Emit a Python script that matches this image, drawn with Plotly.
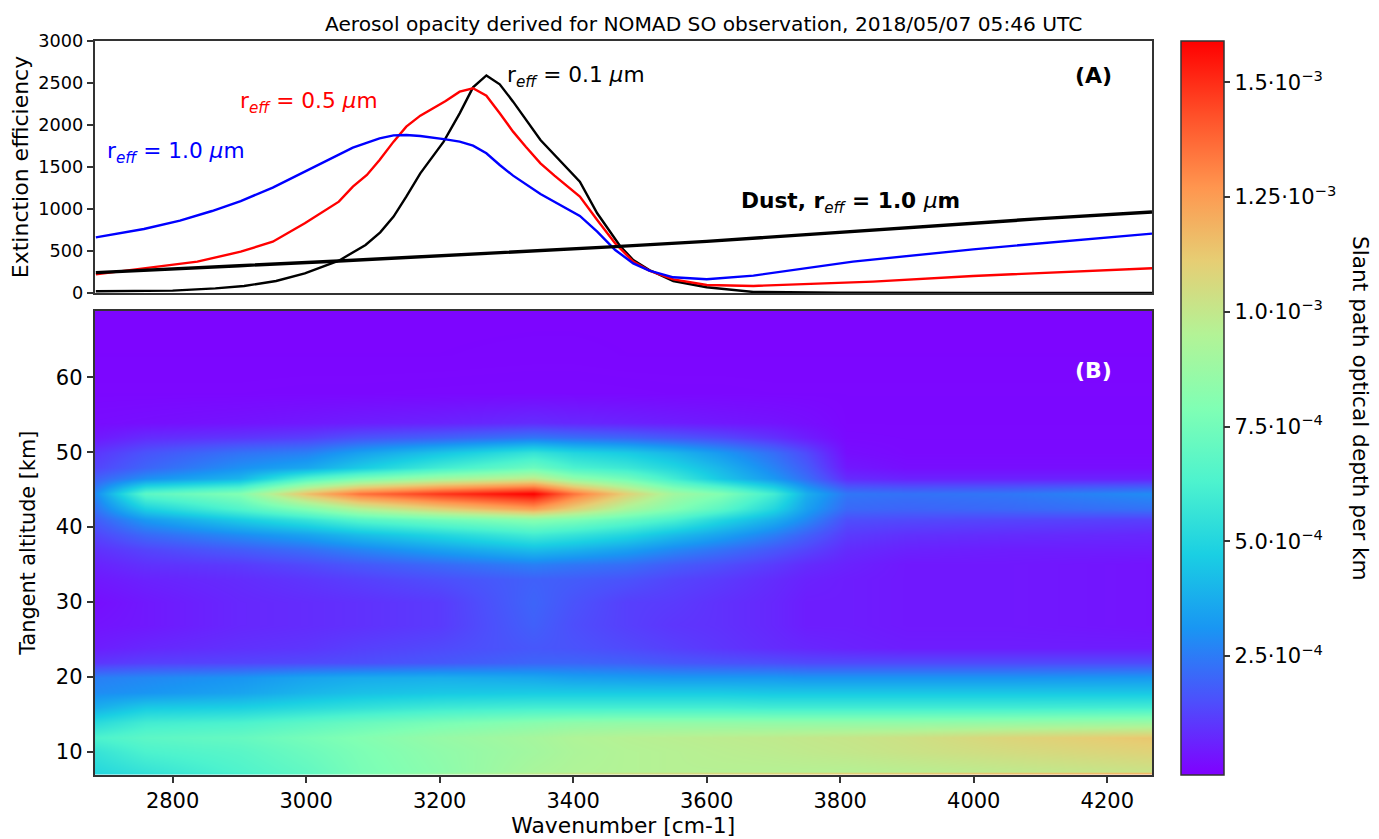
import numpy as np
import plotly.graph_objects as go

W, H = 1379, 839
FONT = "DejaVu Sans"

# Panel A: extinction efficiency curves
x_01 = [2685, 2800, 2864, 2907, 2955, 2998, 3049, 3089, 3111, 3131, 3150, 3171, 3206, 3230, 3250, 3270, 3290, 3310, 3351, 3372, 3410, 3436, 3471, 3490, 3514, 3550, 3600, 3670, 3800, 4000, 4267]
y_01 = [20, 28, 55, 83, 143, 234, 385, 572, 722, 909, 1147, 1425, 1802, 2139, 2448, 2590, 2484, 2278, 1822, 1643, 1326, 949, 552, 393, 274, 143, 68, 12, 4, 2, 1]
x_05 = [2685, 2757, 2837, 2902, 2950, 2998, 3049, 3070, 3091, 3110, 3131, 3150, 3171, 3209, 3230, 3250, 3270, 3290, 3310, 3329, 3351, 3372, 3410, 3436, 3463, 3490, 3514, 3550, 3600, 3670, 3849, 3999, 4267]
y_05 = [222, 294, 373, 492, 611, 830, 1087, 1266, 1405, 1583, 1802, 1980, 2111, 2286, 2397, 2437, 2349, 2139, 1921, 1742, 1544, 1397, 1147, 869, 591, 373, 266, 163, 96, 84, 135, 203, 295]
x_10 = [2685, 2757, 2811, 2859, 2902, 2950, 2998, 3030, 3070, 3110, 3131, 3150, 3171, 3209, 3230, 3250, 3270, 3290, 3310, 3351, 3372, 3410, 3436, 3463, 3490, 3514, 3550, 3600, 3670, 3819, 3999, 4267]
y_10 = [663, 762, 861, 976, 1095, 1254, 1445, 1572, 1730, 1841, 1877, 1881, 1869, 1829, 1802, 1754, 1663, 1524, 1397, 1179, 1087, 917, 730, 512, 353, 266, 187, 163, 207, 373, 520, 707]
x_dust = [2685, 2800, 2900, 3049, 3200, 3340, 3463, 3600, 3700, 3800, 3900, 4000, 4100, 4267]
y_dust = [242, 290, 325, 381, 440, 498, 552, 615, 670, 725, 780, 830, 885, 965]

# Panel B: slant path optical depth per km, in units of 1e-4
wavenumber = [2683, 2760, 2900, 3000, 3080, 3200, 3340, 3400, 3480, 3550, 3620, 3700, 3750, 3810, 3900, 4050, 4267]
altitude = [7, 7.4, 10, 12, 14, 16, 18, 20, 22, 24, 27, 30, 33, 35, 37, 39, 41, 42.5, 44.5, 46.5, 48, 50, 52, 54, 58, 63, 69]
alt_07 = [5.0, 5.4, 6.1, 7.0, 8.0, 9.2, 10.3, 10.7, 11.0, 11.2, 11.5, 11.7, 11.9, 12.1, 12.3, 12.7, 13.2]
alt_08 = [5.1, 5.6, 6.4, 7.0, 7.7, 8.3, 9.2, 9.4, 9.5, 9.6, 9.6, 9.6, 9.6, 9.6, 9.7, 9.9, 10.2]
alt_10 = [5.6, 6.3, 6.7, 7.3, 7.8, 8.4, 9.0, 9.3, 9.5, 9.6, 9.7, 9.8, 9.9, 10.0, 10.2, 10.5, 10.9]
alt_12 = [6.3, 6.8, 7.1, 7.6, 8.0, 8.6, 9.1, 9.4, 9.6, 9.7, 9.8, 9.9, 10.0, 10.1, 10.3, 10.8, 11.3]
alt_14 = [5.2, 6.0, 6.3, 6.8, 7.2, 7.7, 8.2, 8.4, 8.5, 8.5, 8.5, 8.5, 8.5, 8.5, 8.5, 8.6, 8.8]
alt_16 = [3.8, 4.6, 4.8, 5.2, 5.5, 5.9, 6.1, 6.1, 6.1, 6.1, 6.1, 6.0, 6.0, 6.0, 6.0, 6.0, 6.1]
alt_18 = [2.9, 3.1, 3.5, 4.0, 4.3, 4.5, 4.6, 4.6, 4.6, 4.6, 4.6, 4.5, 4.5, 4.5, 4.5, 4.5, 4.5]
alt_20 = [2.6, 2.8, 3.1, 3.5, 3.7, 3.8, 3.6, 3.4, 3.3, 3.2, 3.2, 3.2, 3.1, 3.1, 3.1, 3.1, 3.2]
alt_22 = [1.0, 1.2, 1.3, 1.4, 1.5, 1.7, 2.0, 2.0, 1.9, 1.7, 1.6, 1.5, 1.4, 1.4, 1.4, 1.4, 1.4]
alt_24 = [0.5, 0.7, 0.9, 1.0, 1.2, 1.4, 1.7, 1.6, 1.4, 1.2, 1.0, 0.8, 0.7, 0.6, 0.5, 0.5, 0.5]
alt_27 = [0.3, 0.4, 0.7, 0.8, 0.9, 1.1, 1.9, 1.5, 1.2, 1.0, 0.9, 0.7, 0.5, 0.5, 0.4, 0.4, 0.3]
alt_30 = [0.2, 0.4, 0.7, 0.8, 0.9, 1.1, 2.0, 1.6, 1.2, 1.1, 0.9, 0.7, 0.5, 0.5, 0.4, 0.4, 0.3]
alt_33 = [0.4, 0.6, 0.8, 1.0, 1.2, 1.5, 1.9, 1.8, 1.6, 1.3, 1.1, 0.8, 0.6, 0.5, 0.4, 0.4, 0.3]
alt_35 = [0.6, 0.9, 1.1, 1.4, 1.7, 2.1, 2.6, 2.4, 2.2, 1.8, 1.5, 1.1, 0.8, 0.6, 0.4, 0.4, 0.3]
alt_37 = [0.9, 1.3, 1.8, 2.2, 2.7, 3.4, 4.2, 3.9, 3.4, 2.8, 2.3, 1.7, 1.3, 0.8, 0.6, 0.5, 0.5]
alt_39 = [1.3, 2.1, 2.9, 3.5, 4.2, 5.0, 6.0, 5.6, 5.0, 4.2, 3.5, 2.6, 1.9, 1.1, 0.9, 0.8, 0.7]
alt_41 = [1.8, 3.2, 4.6, 5.6, 6.6, 7.4, 8.2, 7.8, 7.0, 6.2, 5.0, 3.8, 2.8, 1.5, 1.4, 1.3, 1.2]
alt_42 = [2.3, 4.8, 6.5, 8.0, 9.5, 11.0, 12.5, 11.0, 9.2, 8.0, 6.8, 5.0, 3.4, 2.1, 2.0, 2.1, 2.3]
alt_44 = [2.8, 6.8, 8.0, 11.5, 13.5, 14.8, 15.9, 13.5, 11.0, 9.0, 8.0, 6.0, 3.8, 2.4, 2.3, 2.4, 2.9]
alt_46 = [1.9, 3.0, 4.0, 6.5, 7.8, 9.0, 10.0, 8.5, 7.5, 6.0, 4.5, 3.2, 2.2, 0.8, 0.6, 0.6, 0.6]
alt_48 = [1.3, 2.0, 3.0, 3.6, 4.6, 6.0, 7.3, 6.3, 5.8, 5.0, 4.0, 2.7, 1.8, 0.4, 0.2, 0.2, 0.2]
alt_50 = [1.0, 1.6, 2.3, 2.6, 3.4, 4.4, 5.6, 5.0, 4.6, 4.0, 3.2, 2.2, 1.4, 0.2, 0.1, 0.1, 0.1]
alt_52 = [0.4, 0.8, 1.0, 1.2, 1.6, 1.9, 2.4, 2.2, 2.0, 1.7, 1.4, 0.9, 0.5, 0.1, 0.08, 0.08, 0.08]
alt_54 = [0.15, 0.2, 0.3, 0.4, 0.5, 0.6, 0.8, 0.7, 0.6, 0.5, 0.4, 0.3, 0.2, 0.06, 0.06, 0.06, 0.06]
alt_58 = [0.05, 0.05, 0.05, 0.06, 0.06, 0.07, 0.08, 0.08, 0.07, 0.06, 0.06, 0.05, 0.05, 0.05, 0.05, 0.05, 0.05]
alt_63 = [0.02, 0.02, 0.02, 0.02, 0.02, 0.02, 0.03, 0.03, 0.02, 0.02, 0.02, 0.02, 0.02, 0.02, 0.02, 0.02, 0.02]
alt_69 = [0.01, 0.01, 0.01, 0.01, 0.01, 0.01, 0.01, 0.01, 0.01, 0.01, 0.01, 0.01, 0.01, 0.01, 0.01, 0.01, 0.01]

cbar_vals = [2.5e-4, 5.0e-4, 7.5e-4, 1.0e-3, 1.25e-3, 1.5e-3]
cbar_text = ["2.5·10<sup>−4</sup>", "5.0·10<sup>−4</sup>", "7.5·10<sup>−4</sup>",
             "1.0·10<sup>−3</sup>", "1.25·10<sup>−3</sup>", "1.5·10<sup>−3</sup>"]
rainbow = [[0.0, "#8000ff"], [0.1, "#4d4ffc"], [0.2, "#1996f3"], [0.3, "#1acfe3"],
           [0.4, "#4df3ce"], [0.5, "#80ffb4"], [0.6, "#b3f396"], [0.7, "#e6ce74"],
           [0.8, "#ff964f"], [0.9, "#ff4f28"], [1.0, "#ff0000"]]

z_rows = [alt_07, alt_08, alt_10, alt_12, alt_14, alt_16, alt_18, alt_20, alt_22, alt_24, alt_27,
          alt_30, alt_33, alt_35, alt_37, alt_39, alt_41, alt_42, alt_44, alt_46, alt_48, alt_50,
          alt_52, alt_54, alt_58, alt_63, alt_69]
z = np.array(z_rows) * 1e-4

FRAME = "#333333"
fig = go.Figure()
for xs, ys, col, lw in [(x_01, y_01, "#000000", 2.4), (x_05, y_05, "#ff0000", 2.4),
                        (x_10, y_10, "#0000ff", 2.4), (x_dust, y_dust, "#000000", 3.4)]:
    fig.add_trace(go.Scatter(x=xs, y=ys, mode="lines", line=dict(color=col, width=lw),
                             showlegend=False, xaxis="x", yaxis="y"))

fig.add_trace(go.Heatmap(
    x=wavenumber, y=altitude, z=z, xaxis="x2", yaxis="y2", zsmooth="best",
    colorscale=rainbow, zmin=-0.09e-4, zmax=15.9e-4,
    colorbar=dict(
        x=1181 / W, xanchor="left", xpad=0, y=1 - 408 / H, yanchor="middle", ypad=0,
        thickness=43, thicknessmode="pixels", len=734, lenmode="pixels",
        tickmode="array", tickvals=cbar_vals, ticktext=cbar_text,
        ticks="outside", ticklen=6, tickwidth=1.5, tickcolor=FRAME,
        tickfont=dict(family=FONT, size=21, color="#000"),
        outlinecolor=FRAME, outlinewidth=1.5,
    ),
))

def ann(x, y, text, size, color="#000", xref="x", yref="y", anchor="left", angle=0):
    fig.add_annotation(x=x, y=y, xref=xref, yref=yref, text=text, showarrow=False,
                       xanchor=anchor, yanchor="middle", textangle=angle,
                       font=dict(family=FONT, size=size, color=color))

ann(3298, 2575, "r<sub><i>eff</i></sub> = 0.1 <i>μ</i>m", 21.7)
ann(2898, 2262, "r<sub><i>eff</i></sub> = 0.5 <i>μ</i>m", 21.7, "#ff0000")
ann(2698, 1675, "r<sub><i>eff</i></sub> = 1.0 <i>μ</i>m", 21.7, "#0000ff")
ann(3648, 1083, "<b>Dust, r</b><sub><i>eff</i></sub><b> = 1.0 </b><i>μ</i><b>m</b>", 21.7)
ann(4179, 2595, "<b>(A)</b>", 22, anchor="center")
ann(4179, 60.9, "<b>(B)</b>", 22, "#ffffff", "x2", "y2", "center")
ann(703 / W, 1 - 24 / H, "Aerosol opacity derived for NOMAD SO observation, 2018/05/07 05:46 UTC",
    20.2, xref="paper", yref="paper", anchor="center")
ann(1361 / W, 1 - 408 / H, "Slant path optical depth per km", 21.7, xref="paper", yref="paper",
    anchor="center", angle=90)

axis_common = dict(showline=True, linecolor=FRAME, linewidth=1.5, mirror=True,
                   showgrid=False, zeroline=False, ticks="outside", tickcolor=FRAME,
                   tickwidth=1.5, ticklen=6, automargin=False)
XRANGE = [2683, 4267]
fig.update_layout(
    width=W, height=H, autosize=False, paper_bgcolor="#fff", plot_bgcolor="#fff",
    margin=dict(l=0, r=0, t=0, b=0), font=dict(family=FONT, color="#000"),
    xaxis=dict(domain=[94.5 / W, 1152 / W], range=XRANGE, anchor="y", **{**axis_common, "ticks": ""},
               showticklabels=False),
    yaxis=dict(domain=[1 - 293 / H, 1 - 41 / H], range=[0, 3000], anchor="x",
               tickvals=[0, 500, 1000, 1500, 2000, 2500, 3000],
               tickfont=dict(size=17.7, family=FONT),
               title=dict(text="Extinction efficiency", font=dict(size=22, family=FONT), standoff=3),
               **axis_common),
    xaxis2=dict(domain=[94.5 / W, 1152 / W], range=XRANGE, anchor="y2",
                tickvals=[2800, 3000, 3200, 3400, 3600, 3800, 4000, 4200],
                tickfont=dict(size=21, family=FONT),
                title=dict(text="Wavenumber [cm-1]", font=dict(size=21.8, family=FONT), standoff=4),
                **axis_common),
    yaxis2=dict(domain=[1 - 775 / H, 1 - 310.5 / H], range=[6.93, 68.9], anchor="x2",
                tickvals=[10, 20, 30, 40, 50, 60],
                tickfont=dict(size=21, family=FONT),
                title=dict(text="Tangent altitude [km]", font=dict(size=20.8, family=FONT), standoff=15),
                **axis_common),
)

fig.write_html("out.html", config={"displayModeBar": False},
               post_script="document.body.style.margin='0';document.body.style.overflow='hidden';")
